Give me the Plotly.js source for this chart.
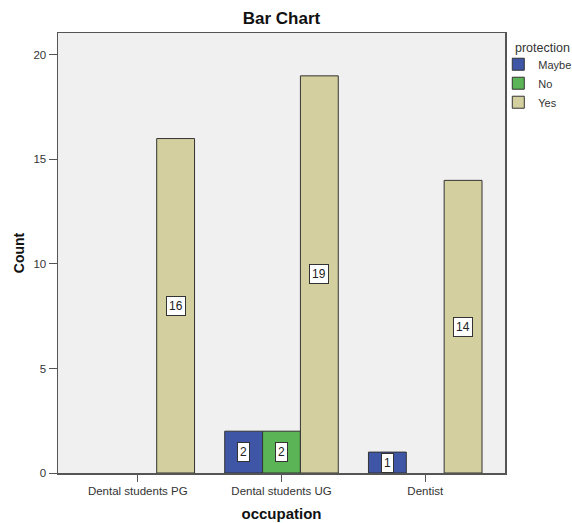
<!DOCTYPE html>
<html>
<head>
<meta charset="utf-8">
<script src="https://cdn.plot.ly/plotly-3.0.1.min.js"></script>
<style>html,body{margin:0;padding:0;background:#fff;}#chart{width:572px;height:523px;}</style>
</head>
<body>
<div id="chart"></div>
<script>
const categories = ["Dental students PG", "Dental students UG", "Dentist"];
const seriesNames = ["Maybe", "No", "Yes"];
const maybeValues = [null, 2, 1];
const noValues = [null, 2, null];
const yesValues = [16, 19, 14];
const yTicks = [0, 5, 10, 15, 20];
const legendTitle = "protection";

const allValues = [maybeValues, noValues, yesValues];
const colors = ["#3f55a6", "#5bb455", "#d4cf9e"];
const bargap = 0.21;
const barWidth = (1 - bargap) / seriesNames.length;
const fontFam = "Liberation Sans, Arial, sans-serif";

const traces = seriesNames.map((name, i) => ({
  type: "bar",
  name: name,
  x: categories,
  y: allValues[i],
  marker: {color: colors[i], line: {color: "#333333", width: 1}},
  hoverinfo: "none"
}));

const annotations = [];
allValues.forEach((vals, i) => {
  vals.forEach((v, j) => {
    if (v) {
      annotations.push({
        x: j + (i - 1) * barWidth, y: v / 2, xref: "x", yref: "y",
        text: String(v), showarrow: false,
        bgcolor: "#ffffff", bordercolor: "#333333", borderwidth: 1, borderpad: 2,
        font: {family: fontFam, size: 12, color: "#222"}
      });
    }
  });
});
annotations.push({
  text: legendTitle, xref: "paper", yref: "paper", x: 1.018, y: 0.967,
  xanchor: "left", yanchor: "middle", showarrow: false,
  font: {family: fontFam, size: 12.5, color: "#333"}
});

const layout = {
  width: 572, height: 523,
  margin: {l: 58, r: 67, t: 33, b: 50, autoexpand: false},
  paper_bgcolor: "#ffffff",
  plot_bgcolor: "#f0f0f0",
  barmode: "group",
  bargap: bargap,
  bargroupgap: 0,
  font: {family: fontFam, size: 11, color: "#333"},
  title: {text: "<b>Bar Chart</b>", x: 0.5, xref: "paper", y: 0.965, yanchor: "middle",
          font: {size: 17, color: "#111"}},
  xaxis: {
    type: "category",
    range: [-0.555, 2.555],
    showline: true, linecolor: "#555", linewidth: 1.5, mirror: true,
    ticks: "outside", ticklen: 7, tickcolor: "#555",
    showgrid: false, zeroline: false,
    tickfont: {size: 11.5, color: "#333"},
    title: {text: "<b>occupation</b>", font: {size: 15, color: "#111"}, standoff: 12}
  },
  yaxis: {
    range: [0, 21.05],
    tickvals: yTicks,
    showline: true, linecolor: "#555", linewidth: 1.5, mirror: true,
    ticks: "outside", ticklen: 8, tickcolor: "#555",
    showgrid: false, zeroline: false,
    tickfont: {size: 11.5, color: "#333"},
    title: {text: "<b>Count</b>", font: {size: 14, color: "#111"}, standoff: 5}
  },
  legend: {
    x: 0.985, xanchor: "left", y: 0.962, yanchor: "top",
    font: {size: 11, color: "#333"},
    bgcolor: "rgba(0,0,0,0)",
    tracegroupgap: 0, itemwidth: 30
  },
  annotations: annotations
};

Plotly.newPlot("chart", traces, layout, {staticPlot: true});
</script>
</body>
</html>
